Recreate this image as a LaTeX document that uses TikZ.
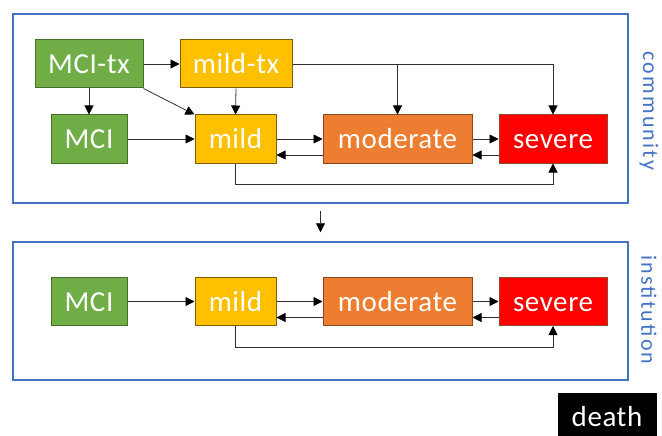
\documentclass[tikz,border=0pt]{standalone}
\usepackage{fontspec}
\setmainfont{Carlito}
\newfontfamily\labelfont[LetterSpace=10]{Carlito}
\newfontfamily\statefont[LetterSpace=2]{Carlito}
\usetikzlibrary{arrows.meta}

\definecolor{frameblue}{HTML}{4472C4}
\definecolor{mcigreen}{HTML}{70AD47}
\definecolor{mcigreenb}{HTML}{476F2C}
\definecolor{mildgold}{HTML}{FFC000}
\definecolor{mildgoldb}{HTML}{7F6000}
\definecolor{modorange}{HTML}{ED7D31}
\definecolor{modorangeb}{HTML}{8C4A1C}
\definecolor{sevred}{HTML}{FF0000}
\definecolor{sevredb}{HTML}{8E4A2A}
\definecolor{lines}{HTML}{303030}

\tikzset{
  state/.style={draw, line width=1pt, text=white, minimum height=48pt, inner sep=0pt,
    text height=23pt, text depth=4pt, font=\statefont\fontsize{29}{32}\selectfont},
  setting/.style={draw=frameblue, line width=1.5pt, inner sep=0pt},
  setlabel/.style={rotate=-90, text=frameblue, font=\labelfont\fontsize{22}{24}\selectfont},
  arr/.style={draw=lines, line width=0.8pt, -{Triangle[length=9pt,width=9pt,color=black]}}
}

\begin{document}
\begin{tikzpicture}[x=1pt, y=-1pt]
 \useasboundingbox (0,0) rectangle (662,436);

 % settings
 \node[setting, minimum width=615pt, minimum height=189pt] (community) at (320.5,108.5) {};
 \node[setting, minimum width=615pt, minimum height=138pt] (institution) at (320.5,311) {};
 \node[setlabel] (comlab) at (649,111) {community};
 \node[setlabel] (inslab) at (649,310) {institution};

 % treated states
 \node[state, fill=mcigreen, draw=mcigreenb, minimum width=108pt] (c-MCItx) at (89,64) {MCI-tx};
 \node[state, fill=mildgold, draw=mildgoldb, minimum width=112pt] (c-mildtx) at (236,64) {mild-tx};

 % states, both levels
 \foreach \lvl/\y in {c/139, i/301.5} {
   \node[state, fill=mcigreen, draw=mcigreenb, minimum width=76pt] (\lvl-MCI) at (89,\y) {MCI};
   \node[state, fill=mildgold, draw=mildgoldb, minimum width=81pt] (\lvl-mild) at (235.5,\y) {mild};
   \node[state, fill=modorange, draw=modorangeb, minimum width=149pt] (\lvl-mod) at (397.5,\y) {moderate};
   \node[state, fill=sevred, draw=sevredb, minimum width=108pt] (\lvl-sev) at (553,\y) {severe};
 }

 \node[state, fill=black, draw=black, minimum width=98pt] (death) at (607,417) {death};

 % lines
 \foreach \lvl in {c, i} {
   \path[arr] (\lvl-MCI.east) -- (\lvl-mild.west);
   \path[arr] (\lvl-mild.east) -- (\lvl-mod.west);
   \path[arr] ([yshift=-16pt]\lvl-mod.west) -- ([yshift=-16pt]\lvl-mild.east);
   \path[arr] (\lvl-mod.east) -- (\lvl-sev.west);
   \path[arr] ([yshift=-16pt]\lvl-sev.west) -- ([yshift=-16pt]\lvl-mod.east);
   \path[arr] (\lvl-mild.south) -- ++(0,21) -| (\lvl-sev.south);
 }

 \path[arr] (c-MCItx.east) -- (c-mildtx.west);
 \path[arr] (c-MCItx.south) -- (c-MCI.north);
 \path[arr] (c-MCItx.south east) -- (c-mild.north west);
 \path[arr] (c-mildtx.south) -- (c-mild.north);
 \path[arr] (c-mildtx.east) -| (c-mod.north);
 \path[arr] (c-mildtx.east) -| (c-sev.north);

 \path[arr, shorten <=7pt, shorten >=9pt] (community.south) -- (institution.north);

\end{tikzpicture}
\end{document}
